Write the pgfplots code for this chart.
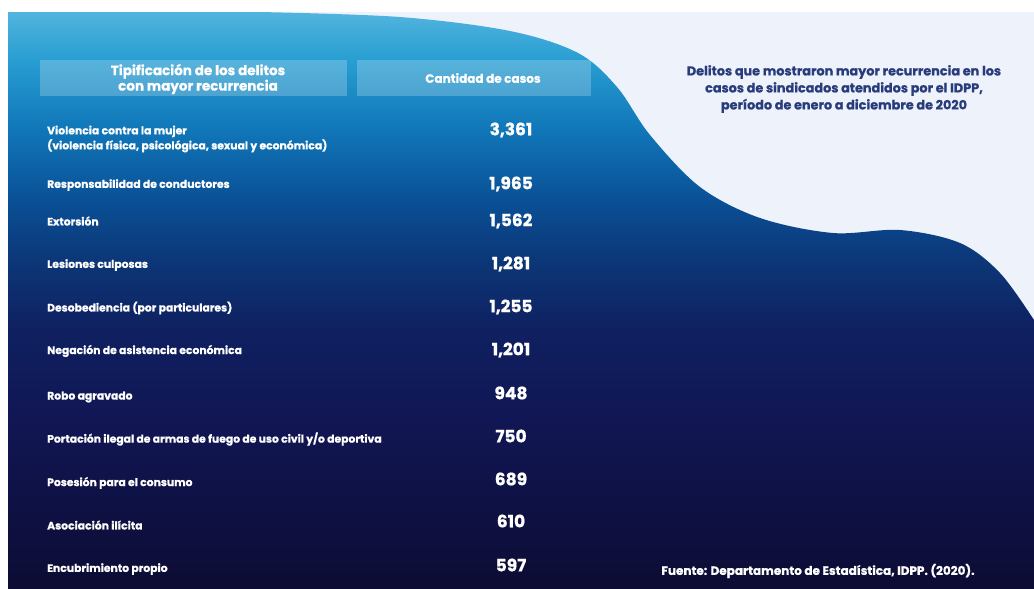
\documentclass[border=0pt]{standalone}
\usepackage{fontspec}
\setmainfont{Poppins}[BoldFeatures={FakeBold=0.8}]
\usepackage{pgfplots}
\usepackage{pgfplotstable}
\pgfplotsset{compat=1.18}

\definecolor{c1}{RGB}{82,180,222}
\definecolor{c2}{RGB}{40,158,210}
\definecolor{c3}{RGB}{16,118,184}
\definecolor{c4}{RGB}{10,80,150}
\definecolor{c5}{RGB}{12,55,120}
\definecolor{c6}{RGB}{15,32,96}
\definecolor{c7}{RGB}{17,22,84}
\definecolor{c8}{RGB}{12,12,52}
\definecolor{lightbg}{RGB}{238,243,251}
\definecolor{titleblue}{RGB}{40,60,124}

\pgfdeclareverticalshading{bgwave}{100bp}{color(0bp)=(c8); color(25bp)=(c8); color(39.64bp)=(c7); color(47.44bp)=(c6); color(53.51bp)=(c5); color(58.71bp)=(c4); color(64.77bp)=(c3); color(70.84bp)=(c2); color(75bp)=(c1); color(100bp)=(c1)}

\pgfplotstableread{
x y v
511 130 3361
511 184 1965
511 221 1562
511 264 1281
511 307 1255
511 350 1201
511 393 948
511 436 750
511 479 689
511 521 610
511 565 597
}\casos

\begin{document}
\begin{tikzpicture}
\begin{axis}[
  width=1034pt, height=589pt, scale only axis,
  xmin=0, xmax=1034, ymin=0, ymax=589, y dir=reverse,
  axis line style={draw=none}, tick style={draw=none},
  axis on top=true,
  clip=false,
  xtick=\empty,
  ytick={139,185,221,265,308,351,397,439,483,525,569},
  yticklabels={{Violencia contra la mujer\\(violencia física, psicológica, sexual y económica)},
    {Responsabilidad de conductores}, {Extorsión}, {Lesiones culposas},
    {Desobediencia (por particulares)}, {Negación de asistencia económica},
    {Robo agravado}, {Portación ilegal de armas de fuego de uso civil y/o deportiva},
    {Posesión para el consumo}, {Asociación ilícita}, {Encubrimiento propio}},
  yticklabel style={anchor=west, xshift=47pt, inner sep=0pt, align=left, text=white,
    font=\bfseries\fontsize{10.8}{15}\selectfont},
  /pgf/number format/assume math mode=true,
  /pgf/number format/1000 sep={,},
]
% background card
\fill[white] (0,0) rectangle (1034,589);
\fill[lightbg] (8,12) rectangle (1034,589);
\path[shading=bgwave] (8,12) -- plot[smooth, tension=0.55] coordinates {(260,12) (400,17) (510,31) (578,53) (617,87) (650,135) (700,187) (760,218) (833,233) (900,230) (960,243) (1000,273) (1034,320)} -- (1034,589) -- (8,589) -- cycle;
% header boxes
\fill[white, fill opacity=0.22] (40,60) rectangle (347,96);
\fill[white, fill opacity=0.22] (357,60) rectangle (591,96);
\node[text=white, align=center, font=\bfseries\fontsize{13.5}{14}\selectfont] at (198,79) {Tipificación de los delitos\\con mayor recurrencia};
\node[text=white, font=\bfseries\fontsize{12}{13}\selectfont] at (483,78) {Cantidad de casos};
% title
\node[text=titleblue, align=center, font=\bfseries\fontsize{12.8}{17}\selectfont] at (844,89) {Delitos que mostraron mayor recurrencia en los\\casos de sindicados atendidos por el IDPP,\\período de enero a diciembre de 2020};
% source
\node[text=white, font=\bfseries\fontsize{12}{13}\selectfont] at (818,571) {Fuente: Departamento de Estadística, IDPP. (2020).};
% values
\addplot[draw=none, mark=none, nodes near coords, point meta=explicit,
  nodes near coords style={anchor=center, text=white, font=\bfseries\fontsize{17}{19}\selectfont}]
  table[x=x, y=y, meta=v] {\casos};
\end{axis}
\end{tikzpicture}
\end{document}
